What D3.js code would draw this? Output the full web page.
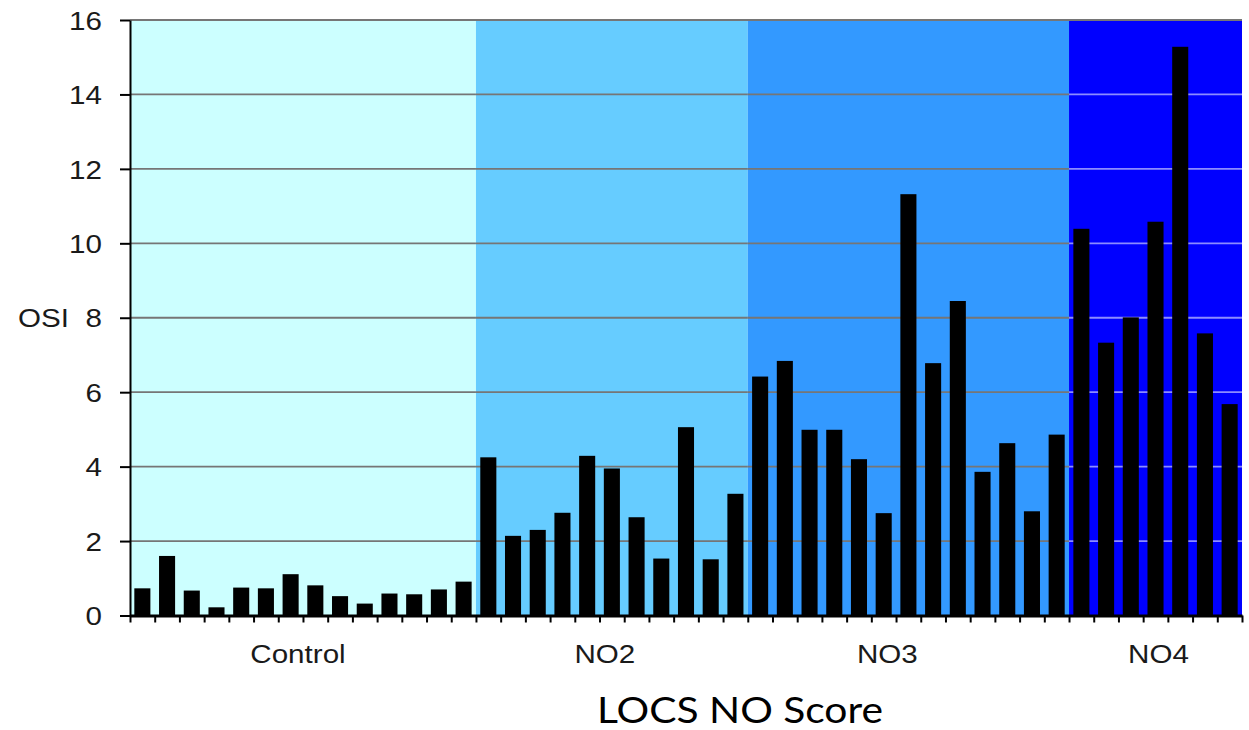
<!DOCTYPE html>
<html>
<head>
<meta charset="utf-8">
<script src="https://cdn.jsdelivr.net/npm/d3@7"></script>
<style>
  html, body { margin: 0; padding: 0; background: #ffffff; }
  svg { display: block; }
</style>
</head>
<body>
<svg id="chart" width="1249" height="730"></svg>
<script>
// OSI per eye, grouped by LOCS nuclear opalescence grade
const groupNames = ["Control", "NO2", "NO3", "NO4"];
const controlValues = [0.73, 1.60, 0.67, 0.22, 0.75, 0.73, 1.11, 0.81, 0.52, 0.32, 0.59, 0.57, 0.70, 0.91];
const no2Values = [4.25, 2.14, 2.30, 2.76, 4.29, 3.95, 2.64, 1.53, 5.06, 1.51, 3.27];
const no3Values = [6.42, 6.84, 4.99, 4.99, 4.20, 2.75, 11.32, 6.78, 8.45, 3.86, 4.63, 2.80, 4.86];
const no4Values = [10.39, 7.33, 8.01, 10.58, 15.28, 7.58, 5.68];
const yTicks = [0, 2, 4, 6, 8, 10, 12, 14, 16];

const groupFills = ["#ccffff", "#66ccff", "#3399ff", "#0000ff"];
const gridColors = ["#767676", "#767676", "#767676", "#8c8cff"];

const groupValues = [controlValues, no2Values, no3Values, no4Values];

// Flatten into one row per bar, remembering the group each belongs to
const rows = [];
groupValues.forEach((vals, g) => vals.forEach(v => rows.push({ group: g, value: v })));
const groupStart = [];
let acc = 0;
groupValues.forEach(vals => { groupStart.push(acc); acc += vals.length; });
const n = rows.length;

const plotLeft = 130, plotRight = 1242, plotTop = 20, plotBottom = 615.5;
const svg = d3.select("#chart");
const font = "'Liberation Sans', Arial, sans-serif";
const stretch = 1.16;

const y = d3.scaleLinear().domain([0, 16]).range([plotBottom, plotTop]);
const pad = 0.35;
const x = d3.scaleBand().domain(d3.range(n)).range([plotLeft, plotRight])
  .paddingInner(pad).paddingOuter(pad / 2);
const slot = d3.scaleLinear().domain([0, n]).range([plotLeft, plotRight]);

// Shaded background per group
svg.append("g").selectAll("rect").data(groupNames).join("rect")
  .attr("x", (d, i) => slot(groupStart[i]))
  .attr("y", y(16))
  .attr("width", (d, i) => slot(groupStart[i] + groupValues[i].length) - slot(groupStart[i]))
  .attr("height", y(0) - y(16))
  .attr("fill", (d, i) => groupFills[i]);

// Horizontal gridlines, tinted per group
const grid = svg.append("g");
groupNames.forEach((name, i) => {
  grid.append("g").selectAll("line").data(yTicks.filter(t => t > 0 && t < 16)).join("line")
    .attr("x1", slot(groupStart[i]))
    .attr("x2", slot(groupStart[i] + groupValues[i].length))
    .attr("y1", d => y(d)).attr("y2", d => y(d))
    .attr("stroke", gridColors[i]).attr("stroke-width", 1.8);
});
grid.append("line")
  .attr("x1", plotLeft).attr("x2", plotRight)
  .attr("y1", y(16)).attr("y2", y(16))
  .attr("stroke", "#767676").attr("stroke-width", 1.8);

// Bars
svg.append("g").selectAll("rect").data(rows).join("rect")
  .attr("x", (d, i) => x(i))
  .attr("y", d => y(d.value))
  .attr("width", x.bandwidth())
  .attr("height", d => y(0) - y(d.value))
  .attr("fill", "#000000");

// Y axis
const yAxis = svg.append("g")
  .attr("transform", `translate(${plotLeft},0)`)
  .call(d3.axisLeft(y).tickValues(yTicks).tickSize(10).tickSizeOuter(0).tickPadding(16));
yAxis.select(".domain").attr("stroke", "#000").attr("stroke-width", 2);
yAxis.selectAll(".tick line").attr("stroke", "#000").attr("stroke-width", 2);
yAxis.selectAll(".tick text")
  .attr("font-family", font).attr("font-size", 25.5).attr("fill", "#1a1a1a")
  .attr("transform", `scale(${stretch},1)`)
  .attr("x", -28 / stretch)
  .attr("dy", "0.36em");

// X axis with a tick between every bar
const xAxis = svg.append("g")
  .attr("transform", `translate(0,${plotBottom})`)
  .call(d3.axisBottom(slot).tickValues(d3.range(n + 1)).tickSize(7).tickSizeOuter(0).tickFormat(""));
xAxis.select(".domain").attr("stroke", "#000").attr("stroke-width", 3);
xAxis.selectAll(".tick line").attr("stroke", "#000").attr("stroke-width", 2);

// Group labels
const labelNudge = [-5, -7, -21, 3];
svg.append("g").selectAll("text").data(groupNames).join("text")
  .attr("transform", (d, i) => {
    const cx = (slot(groupStart[i]) + slot(groupStart[i] + groupValues[i].length)) / 2 + labelNudge[i];
    return `translate(${cx},663) scale(${stretch},1)`;
  })
  .attr("text-anchor", "middle")
  .attr("font-family", font).attr("font-size", 25.5).attr("fill", "#1a1a1a")
  .text(d => d);

// Axis titles
svg.append("text")
  .attr("transform", `translate(18,327) scale(${stretch},1)`)
  .attr("font-family", font).attr("font-size", 25.5).attr("fill", "#1a1a1a")
  .text("OSI");

svg.append("text")
  .attr("x", 740).attr("y", 723)
  .attr("text-anchor", "middle")
  .attr("font-family", "Lato, 'Open Sans', sans-serif").attr("font-size", 37)
  .attr("textLength", 286).attr("lengthAdjust", "spacingAndGlyphs")
  .attr("fill", "#000")
  .text("LOCS NO Score");
</script>
</body>
</html>
